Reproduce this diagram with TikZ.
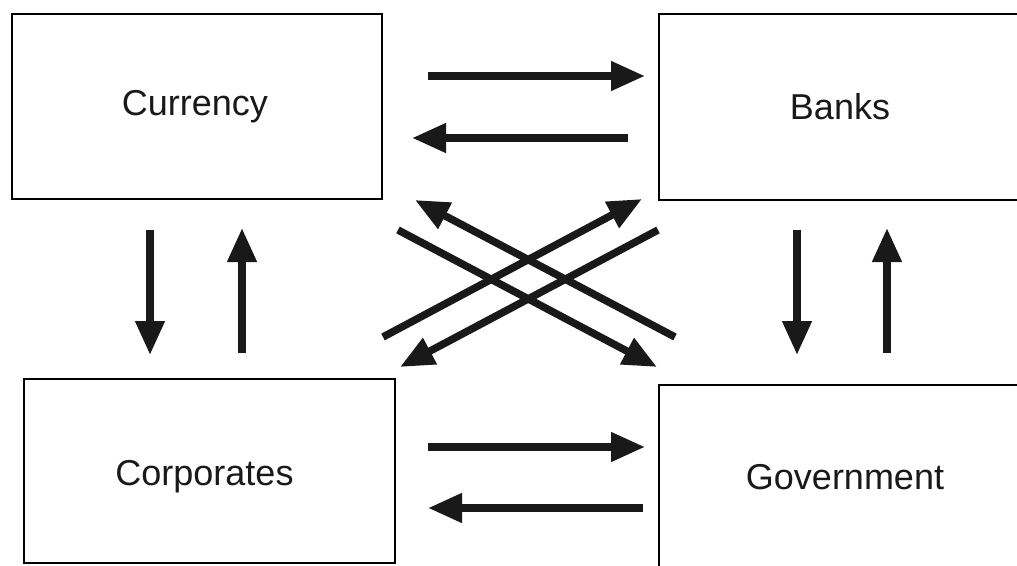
\documentclass[tikz,border=0pt]{standalone}
\usepackage{fontspec}
\setmainfont{Liberation Sans}
\usetikzlibrary{arrows.meta}
\begin{document}
\begin{tikzpicture}[x=1pt,y=-1pt,
  box/.style={draw, line width=2pt, inner sep=0pt, font=\fontsize{36}{43}\selectfont, text=black!90},
  flow/.style={line width=7.5pt, -{Triangle[length=34pt,width=28pt]}, black!90}]
\useasboundingbox (0,0) rectangle (1017,565);
\clip (0,0) rectangle (1017,565);
% boxes
\node[box, minimum width=370pt, minimum height=185pt] (cur) at (197,106.5) {\hspace*{-4pt}Currency};
\node[box, minimum width=362pt, minimum height=186pt] (bank) at (840,107) {Banks};
\node[box, minimum width=371pt, minimum height=184pt] (corp) at (209.5,471) {\raisebox{-6pt}[\height][\depth]{\hspace*{-10pt}Corporates}};
\node[box, minimum width=372pt, minimum height=184pt] (gov) at (845,477) {Government};
% arrow end points
\coordinate (h1a) at (428,76);  \coordinate (h1b) at (645,76);
\coordinate (h2a) at (628,138); \coordinate (h2b) at (412,138);
\coordinate (h3a) at (428,447); \coordinate (h3b) at (645,447);
\coordinate (h4a) at (643,508); \coordinate (h4b) at (428,508);
\coordinate (v1a) at (150,230); \coordinate (v1b) at (150,355);
\coordinate (v2a) at (242,353); \coordinate (v2b) at (242,228);
\coordinate (v3a) at (797,230); \coordinate (v3b) at (797,355);
\coordinate (v4a) at (887,353); \coordinate (v4b) at (887,228);
\coordinate (d1a) at (675,337); \coordinate (d1b) at (415,200);
\coordinate (d2a) at (383,337); \coordinate (d2b) at (642,199);
\coordinate (d3a) at (398,230); \coordinate (d3b) at (657,367);
\coordinate (d4a) at (658,230); \coordinate (d4b) at (400,367);
% arrows
\foreach \p in {h1,h2,h3,h4,v1,v2,v3,v4,d1,d2,d3,d4}
  \draw[flow] (\p a) -- (\p b);
\end{tikzpicture}
\end{document}
